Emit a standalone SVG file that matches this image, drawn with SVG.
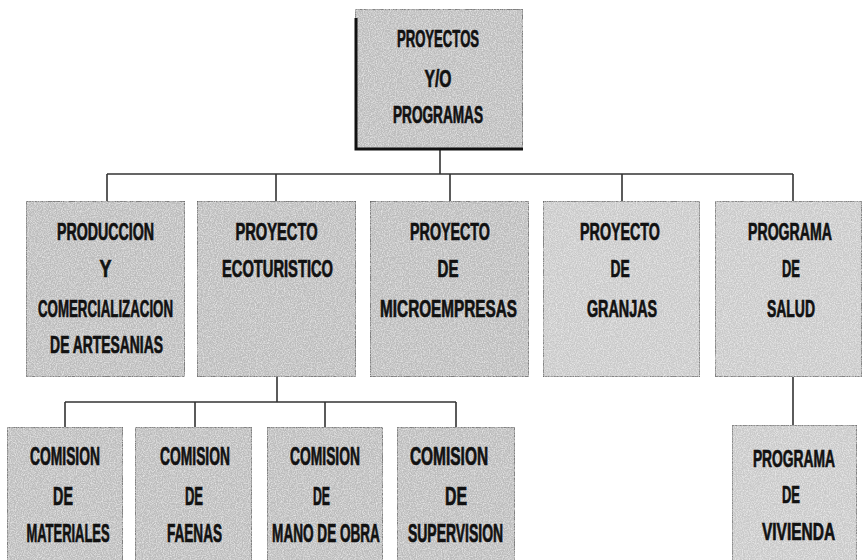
<svg xmlns="http://www.w3.org/2000/svg" width="864" height="560" viewBox="0 0 864 560">
<style>
  .box { fill: #bcbcbc; stroke: #555; stroke-width: 1.2; filter: url(#grain); }
  .lite { fill: #c9c9c9; }
  .t { font-family: "Liberation Sans", Arial, sans-serif; font-weight: bold; font-size: 23px; fill: #111; stroke: #111; stroke-width: 0.7; text-anchor: middle; }
  .b { font-size: 25px; }
  .c { fill: none; stroke: #333; stroke-width: 1.6; }
</style>
<defs>
  <filter id="grain" x="0" y="0" width="100%" height="100%">
    <feTurbulence type="fractalNoise" baseFrequency="0.85" numOctaves="2" seed="3" result="n"/>
    <feColorMatrix in="n" type="matrix" values="0 0 0 0 1  0 0 0 0 1  0 0 0 0 1  1.2 0 0 0 -0.45" result="w"/>
    <feComposite in="w" in2="SourceGraphic" operator="in" result="wi"/>
    <feMerge><feMergeNode in="SourceGraphic"/><feMergeNode in="wi"/></feMerge>
  </filter>
</defs>
<rect width="864" height="560" fill="#fff"/>

<g id="connectors">
  <path class="c" d="M440 150 V174 M107 174 H793 M107 174 V201 M276 174 V201 M450 174 V201 M622 174 V201 M793 174 V201"/>
  <path class="c" d="M277 377 V402 M65 402 H456 M65 402 V427 M195 402 V427 M325 402 V427 M456 402 V427"/>
  <path class="c" d="M793 377 V425"/>
</g>

<g id="n-root">
  <rect class="box" x="355" y="9" width="168" height="141"/>
  <path d="M356 18 V149 H523" fill="none" stroke="#111" stroke-width="3"/>
  <text class="t" transform="translate(438 47) scale(0.6 1)" textLength="137" lengthAdjust="spacingAndGlyphs">PROYECTOS</text>
  <text class="t" transform="translate(438 87) scale(0.6 1)" textLength="45" lengthAdjust="spacingAndGlyphs">Y/O</text>
  <text class="t" transform="translate(438 123) scale(0.6 1)" textLength="150" lengthAdjust="spacingAndGlyphs">PROGRAMAS</text>
</g>

<g id="n-produccion">
  <rect class="box" x="26" y="201" width="159" height="176"/>
  <text class="t" transform="translate(105.5 240) scale(0.6 1)" textLength="162" lengthAdjust="spacingAndGlyphs">PRODUCCION</text>
  <text class="t" transform="translate(105.5 277) scale(0.6 1)" textLength="20" lengthAdjust="spacingAndGlyphs">Y</text>
  <text class="t" transform="translate(105.5 317) scale(0.6 1)" textLength="225" lengthAdjust="spacingAndGlyphs">COMERCIALIZACION</text>
  <text class="t" transform="translate(106.5 353) scale(0.6 1)" textLength="188" lengthAdjust="spacingAndGlyphs">DE ARTESANIAS</text>
</g>

<g id="n-ecoturistico">
  <rect class="box" x="197" y="201" width="159" height="176"/>
  <text class="t" transform="translate(276.5 240) scale(0.6 1)" textLength="137" lengthAdjust="spacingAndGlyphs">PROYECTO</text>
  <text class="t" transform="translate(277.5 277) scale(0.6 1)" textLength="185" lengthAdjust="spacingAndGlyphs">ECOTURISTICO</text>
</g>

<g id="n-microempresas">
  <rect class="box" x="370" y="201" width="159" height="176"/>
  <text class="t" transform="translate(450 240) scale(0.6 1)" textLength="133" lengthAdjust="spacingAndGlyphs">PROYECTO</text>
  <text class="t" transform="translate(448 277) scale(0.6 1)" textLength="35" lengthAdjust="spacingAndGlyphs">DE</text>
  <text class="t" transform="translate(448.5 317) scale(0.6 1)" textLength="228" lengthAdjust="spacingAndGlyphs">MICROEMPRESAS</text>
</g>

<g id="n-granjas">
  <rect class="box lite" x="543" y="201" width="157" height="176"/>
  <text class="t" transform="translate(620 240) scale(0.6 1)" textLength="133" lengthAdjust="spacingAndGlyphs">PROYECTO</text>
  <text class="t" transform="translate(620 277) scale(0.6 1)" textLength="32" lengthAdjust="spacingAndGlyphs">DE</text>
  <text class="t" transform="translate(622 317) scale(0.6 1)" textLength="117" lengthAdjust="spacingAndGlyphs">GRANJAS</text>
</g>

<g id="n-salud">
  <rect class="box lite" x="715" y="201" width="147" height="176"/>
  <text class="t" transform="translate(790 240) scale(0.6 1)" textLength="140" lengthAdjust="spacingAndGlyphs">PROGRAMA</text>
  <text class="t" transform="translate(791 277) scale(0.6 1)" textLength="30" lengthAdjust="spacingAndGlyphs">DE</text>
  <text class="t" transform="translate(791 317) scale(0.6 1)" textLength="80" lengthAdjust="spacingAndGlyphs">SALUD</text>
</g>

<g id="n-materiales">
  <rect class="box" x="7" y="427" width="116" height="140"/>
  <text class="t b" transform="translate(65 465) scale(0.55 1)" textLength="127" lengthAdjust="spacingAndGlyphs">COMISION</text>
  <text class="t b" transform="translate(63 505) scale(0.55 1)" textLength="36" lengthAdjust="spacingAndGlyphs">DE</text>
  <text class="t b" transform="translate(68 542) scale(0.55 1)" textLength="151" lengthAdjust="spacingAndGlyphs">MATERIALES</text>
</g>

<g id="n-faenas">
  <rect class="box" x="135" y="427" width="117" height="140"/>
  <text class="t b" transform="translate(195 465) scale(0.55 1)" textLength="127" lengthAdjust="spacingAndGlyphs">COMISION</text>
  <text class="t b" transform="translate(194 505) scale(0.55 1)" textLength="33" lengthAdjust="spacingAndGlyphs">DE</text>
  <text class="t b" transform="translate(194.5 542) scale(0.55 1)" textLength="100" lengthAdjust="spacingAndGlyphs">FAENAS</text>
</g>

<g id="n-manodeobra">
  <rect class="box" x="267" y="427" width="116" height="140"/>
  <text class="t b" transform="translate(325 465) scale(0.55 1)" textLength="127" lengthAdjust="spacingAndGlyphs">COMISION</text>
  <text class="t b" transform="translate(321.5 505) scale(0.55 1)" textLength="31" lengthAdjust="spacingAndGlyphs">DE</text>
  <text class="t b" transform="translate(326 542) scale(0.55 1)" textLength="196" lengthAdjust="spacingAndGlyphs">MANO DE OBRA</text>
</g>

<g id="n-supervision">
  <rect class="box" x="397" y="427" width="118" height="140"/>
  <text class="t b" transform="translate(449 465) scale(0.55 1)" textLength="142" lengthAdjust="spacingAndGlyphs">COMISION</text>
  <text class="t b" transform="translate(456 505) scale(0.55 1)" textLength="40" lengthAdjust="spacingAndGlyphs">DE</text>
  <text class="t b" transform="translate(455.5 542) scale(0.55 1)" textLength="173" lengthAdjust="spacingAndGlyphs">SUPERVISION</text>
</g>

<g id="n-vivienda">
  <rect class="box lite" x="732" y="425" width="125" height="142"/>
  <text class="t" transform="translate(794 467) scale(0.6 1)" textLength="137" lengthAdjust="spacingAndGlyphs">PROGRAMA</text>
  <text class="t" transform="translate(791 503) scale(0.6 1)" textLength="30" lengthAdjust="spacingAndGlyphs">DE</text>
  <text class="t" transform="translate(798.5 540) scale(0.6 1)" textLength="122" lengthAdjust="spacingAndGlyphs">VIVIENDA</text>
</g>
</svg>
